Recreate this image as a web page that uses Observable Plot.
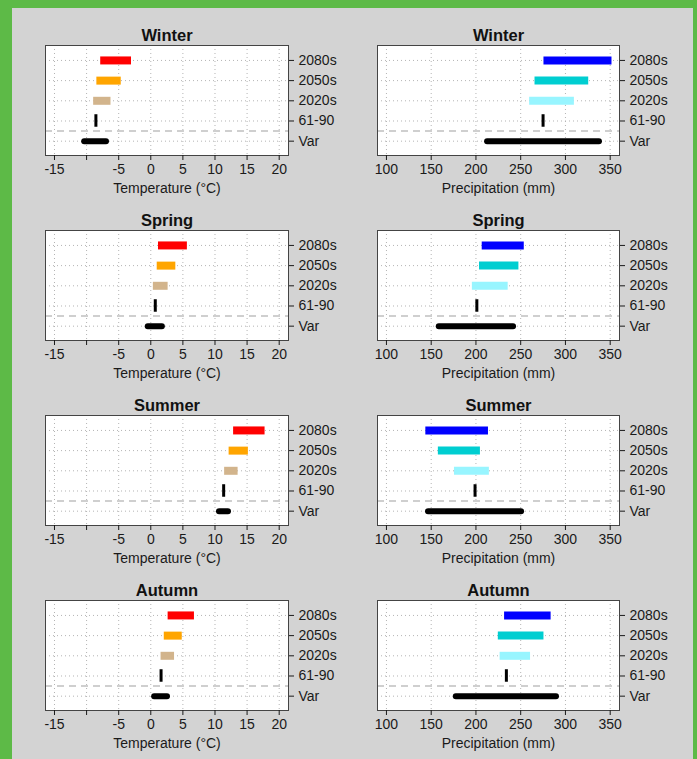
<!DOCTYPE html>
<html>
<head>
<meta charset="utf-8">
<script src="https://cdn.jsdelivr.net/npm/d3@7"></script>
<script src="https://cdn.jsdelivr.net/npm/@observablehq/plot@0.6"></script>
<style>
  html, body { margin: 0; padding: 0; }
  body { width: 697px; height: 759px; background: #5dba47; position: relative; overflow: hidden;
         font-family: "Liberation Sans", Arial, sans-serif; }
  #bg { position: absolute; left: 12px; top: 8px; width: 681px; height: 751px; background: #d3d3d3; }
  .panel { position: absolute; }
</style>
</head>
<body>
<div id="bg"></div>
<script>
// Category order (bottom to top)
const categories = ["Var", "61-90", "2020s", "2050s", "2080s"];
const seasons = ["Winter", "Spring", "Summer", "Autumn"];

// Ranges per category: Var [lo,hi], 61-90 [value], 2020s, 2050s, 2080s [lo,hi]
const tempWinter = [[-10.3, -6.9], [-8.55], [-8.9, -6.2], [-8.4, -4.6], [-7.8, -3.0]];
const tempSpring = [[-0.4, 1.8], [0.7], [0.4, 2.7], [1.0, 3.9], [1.2, 5.7]];
const tempSummer = [[10.7, 12.1], [11.35], [11.5, 13.6], [12.2, 15.2], [12.9, 17.8]];
const tempAutumn = [[0.6, 2.6], [1.6], [1.6, 3.7], [2.1, 4.9], [2.7, 6.8]];

const precWinter = [[213, 338], [275], [260, 310], [266, 326], [276, 352]];
const precSpring = [[159, 242], [201], [196, 236], [204, 248], [207, 254]];
const precSummer = [[147, 251], [199], [176, 215], [158, 205], [144, 214]];
const precAutumn = [[178, 290], [234], [227, 261], [225, 276], [232, 284]];

const tempColors = ["black", "black", "#d2b48c", "#ffa500", "#ff0000"];
const precColors = ["black", "black", "#98f5ff", "#00ced1", "#0000ff"];

const tempTicks = [-15, -10, -5, 0, 5, 10, 15, 20];
const precTicks = [100, 150, 200, 250, 300, 350];
const tempDomain = [-16.4, 21.45];
const precDomain = [90, 360.4];

const tempData = [tempWinter, tempSpring, tempSummer, tempAutumn];
const precData = [precWinter, precSpring, precSummer, precAutumn];

function makePanel(title, ranges, colors, ticks, domain, label, hideTick, opts) {
  const rows = ranges.map((r, i) => ({cat: categories[i], pos: i + 1, lo: r[0], hi: r.length > 1 ? r[1] : r[0], color: colors[i]}));
  const bars = rows.filter(d => d.cat !== "Var" && d.cat !== "61-90");
  const varRow = rows.filter(d => d.cat === "Var");
  const baseRow = rows.filter(d => d.cat === "61-90");
  return Plot.plot({
    width: opts.width,
    height: 205,
    marginTop: 45,
    marginBottom: 50,
    marginLeft: opts.marginLeft,
    marginRight: opts.marginRight,
    style: {background: "transparent", overflow: "visible", fontSize: "14px",
            fontFamily: '"Liberation Sans", Arial, sans-serif', color: "#1a1a1a"},
    x: {domain, label: null},
    y: {domain: [0.29, 5.74], label: null},
    color: {type: "identity"},
    marks: [
      Plot.frame({fill: "white"}),
      Plot.gridX(ticks, {stroke: "#b4b4b4", strokeOpacity: 1, strokeDasharray: "1,3"}),
      Plot.gridY([1, 2, 3, 4, 5], {stroke: "#b4b4b4", strokeOpacity: 1, strokeDasharray: "1,3"}),
      Plot.ruleY([1.5], {stroke: "#c0c0c0", strokeWidth: 1.5, strokeDasharray: "7,5"}),
      Plot.ruleY(bars, {y: "pos", x1: "lo", x2: "hi", stroke: "color", strokeWidth: 8, strokeLinecap: "butt"}),
      Plot.ruleY(varRow, {y: "pos", x1: "lo", x2: "hi", stroke: "color", strokeWidth: 6, strokeLinecap: "round"}),
      Plot.ruleX(baseRow, {x: "lo", y1: d => d.pos - 0.31, y2: d => d.pos + 0.31, stroke: "color", strokeWidth: 3}),
      Plot.frame({stroke: "#444", strokeWidth: 1}),
      Plot.axisX({ticks, tickFormat: d => (d === hideTick ? "" : String(d)), tickSize: 5, tickPadding: 4, label: null}),
      Plot.axisY({anchor: "right", ticks: [1, 2, 3, 4, 5], tickFormat: i => categories[i - 1], tickSize: 5, tickPadding: 5, label: null}),
      Plot.text([title], {text: d => d, frameAnchor: "top", dy: -10, lineAnchor: "middle", fontWeight: "bold", fontSize: 16.5, fill: "#111"}),
      Plot.text([label], {text: d => d, frameAnchor: "bottom", dy: 33, lineAnchor: "middle", fontSize: 14, fill: "#1a1a1a"})
    ]
  });
}

seasons.forEach((s, i) => {
  const left = document.createElement("div");
  left.className = "panel";
  left.style.left = "0px";
  left.style.top = (185 * i) + "px";
  left.appendChild(makePanel(s, tempData[i], tempColors, tempTicks, tempDomain, "Temperature (°C)", -10,
    {width: 348, marginLeft: 45, marginRight: 60}));
  document.body.appendChild(left);

  const right = document.createElement("div");
  right.className = "panel";
  right.style.left = "348px";
  right.style.top = (185 * i) + "px";
  right.appendChild(makePanel(s, precData[i], precColors, precTicks, precDomain, "Precipitation (mm)", null,
    {width: 349, marginLeft: 29, marginRight: 78}));
  document.body.appendChild(right);
});
</script>
</body>
</html>
